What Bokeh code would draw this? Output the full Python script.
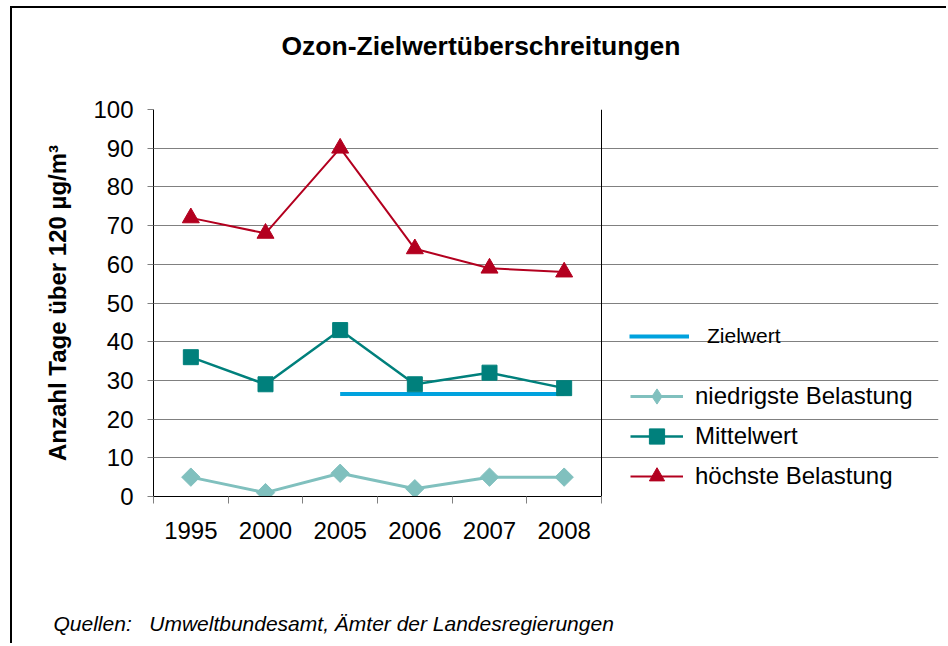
import math
from bokeh.plotting import figure
from bokeh.models import FixedTicker, Legend, LegendItem, Range1d, Title, Grid
from bokeh.embed import file_html
from bokeh.resources import INLINE

# ---- data ----
years = ["1995", "2000", "2005", "2006", "2007", "2008"]
hoechste = [72, 68, 90, 64, 59, 58]
mittelwert = [36, 29, 43, 29, 32, 28]
niedrigste = [5, 1, 6, 2, 5, 5]
zielwert_years = ["2005", "2008"]
zielwert = [26.5, 26.5]
y_ticks = [0, 10, 20, 30, 40, 50, 60, 70, 80, 90, 100]

title_text = "Ozon-Zielwertüberschreitungen"
y_label = "Anzahl Tage über 120 µg/m³"
source_text = "Quellen:\u00a0\u00a0\u00a0Umweltbundesamt, Ämter der Landesregierungen"
legend_labels = ["Zielwert", "niedrigste Belastung", "Mittelwert", "höchste Belastung"]

# ---- styles / layout ----
FONT = "Liberation Sans"
C_HIGH = "#B3001F"
C_MID = "#00807C"
C_LOW = "#80C0BE"
C_ZIEL = "#00A2DE"

W, H = 936, 637
B_LEFT, B_RIGHT, B_TOP, B_BOTTOM = 141, 10, 101, 149
PLOT_W = 448  # pixel width of the category area

n = len(years)
xs = list(range(n))
zx = [years.index(y) for y in zielwert_years]
frame_w = W - B_LEFT - B_RIGHT
x_end = -0.5 + n * frame_w / PLOT_W
cat_lo, cat_hi = -0.5, n - 0.5

p = figure(width=W, height=H,
           x_range=Range1d(-0.5, x_end), y_range=Range1d(0, 100),
           output_backend="svg", toolbar_location=None,
           min_border_left=B_LEFT, min_border_right=B_RIGHT,
           min_border_top=B_TOP, min_border_bottom=B_BOTTOM)
p.styles = {"border-left": "2px solid black", "border-top": "2px solid black",
            "margin-left": "10px", "margin-top": "6px"}
p.background_fill_color = "white"
p.border_fill_color = "white"
p.outline_line_color = None

# title (outermost in the top panel), with a blank spacer between it and the plot
p.title.text = title_text
p.title.align = "left"
p.title.offset = 128
p.title.standoff = 10
p.title.text_font = FONT
p.title.text_font_size = "26.5px"
p.title.text_font_style = "bold"
p.title.text_color = "black"
p.add_layout(Title(text=" ", text_font_size="1px", standoff=41), "above")

# x axis
xa = p.xaxis[0]
xa.bounds = (cat_lo, cat_hi)
xa.ticker = FixedTicker(ticks=xs, minor_ticks=[i - 0.5 for i in range(n + 1)])
xa.major_label_overrides = {i: y for i, y in enumerate(years)}
xa.major_tick_line_color = None
xa.major_tick_out = 0
xa.major_tick_in = 0
xa.minor_tick_out = 7
xa.minor_tick_in = 0
xa.minor_tick_line_color = "#808080"
xa.axis_line_color = "black"
xa.major_label_text_font = FONT
xa.major_label_text_font_size = "24px"
xa.major_label_text_color = "black"
xa.major_label_standoff = 18

# y axis
ya = p.yaxis[0]
ya.ticker = FixedTicker(ticks=y_ticks)
ya.major_tick_out = 6
ya.major_tick_in = 0
ya.minor_tick_line_color = None
ya.major_tick_line_color = "#808080"
ya.axis_line_color = "black"
ya.major_label_text_font = FONT
ya.major_label_text_font_size = "24px"
ya.major_label_text_color = "black"
ya.major_label_standoff = 14
ya.axis_label = y_label
ya.axis_label_text_font = FONT
ya.axis_label_text_font_size = "24px"
ya.axis_label_text_font_style = "bold"
ya.axis_label_text_color = "black"
ya.axis_label_standoff = 19

# grids: gray inner lines, black top and right edges of the plot area
p.xgrid.visible = False
p.ygrid.ticker = FixedTicker(ticks=y_ticks[1:-1])
p.ygrid.bounds = (cat_lo, cat_hi)
p.ygrid.grid_line_color = "#808080"
p.ygrid.grid_line_width = 1
p.add_layout(Grid(dimension=1, ticker=FixedTicker(ticks=[y_ticks[-1]]),
                  bounds=(cat_lo, cat_hi), grid_line_color="black"))
p.add_layout(Grid(dimension=0, ticker=FixedTicker(ticks=[cat_hi]),
                  bounds=(y_ticks[0], y_ticks[-1]), grid_line_color="black"))

# ---- series ----
r_ziel = p.line(zx, zielwert, line_color=C_ZIEL, line_width=4)

l_low = p.line(xs, niedrigste, line_color=C_LOW, line_width=3)
s_low = p.scatter(xs, niedrigste, marker="square", angle=math.pi / 4, size=13,
                  fill_color=C_LOW, line_color=C_LOW)
s_low_leg = p.scatter(xs, niedrigste, marker="diamond", size=13,
                      fill_color=C_LOW, line_color=C_LOW, visible=False)

l_mid = p.line(xs, mittelwert, line_color=C_MID, line_width=2.5)
s_mid = p.scatter(xs, mittelwert, marker="square", size=15,
                  fill_color=C_MID, line_color=C_MID)

l_high = p.line(xs, hoechste, line_color=C_HIGH, line_width=2)
s_high = p.scatter(xs, hoechste, marker="triangle", size=17,
                   fill_color=C_HIGH, line_color=C_HIGH)

# ---- legends ----
leg_ziel = Legend(items=[LegendItem(label=legend_labels[0], renderers=[r_ziel])],
                  location=(476, 146), orientation="vertical",
                  glyph_width=60, glyph_height=28, label_height=28,
                  label_standoff=18, padding=0, margin=0, spacing=0,
                  border_line_alpha=0, background_fill_alpha=0,
                  label_text_font=FONT, label_text_font_size="21px",
                  label_text_color="black")
leg_main = Legend(items=[LegendItem(label=legend_labels[1], renderers=[l_low, s_low_leg]),
                         LegendItem(label=legend_labels[2], renderers=[l_mid, s_mid]),
                         LegendItem(label=legend_labels[3], renderers=[l_high, s_high])],
                  location=(477, 1), orientation="vertical",
                  glyph_width=53, glyph_height=38, label_height=38,
                  label_standoff=12, padding=0, margin=0, spacing=2,
                  border_line_alpha=0, background_fill_alpha=0,
                  label_text_font=FONT, label_text_font_size="24px",
                  label_text_color="black")
p.add_layout(leg_ziel)
p.add_layout(leg_main)

# ---- source note (blank spacer under the x axis, then the note) ----
p.add_layout(Title(text=" ", text_font_size="1px", standoff=65), "below")
src = Title(text=source_text, align="left", offset=-100, standoff=0,
            text_font=FONT, text_font_size="21px", text_font_style="italic",
            text_color="black")
p.add_layout(src, "below")

open("out.html", "w").write(file_html(p, INLINE))
